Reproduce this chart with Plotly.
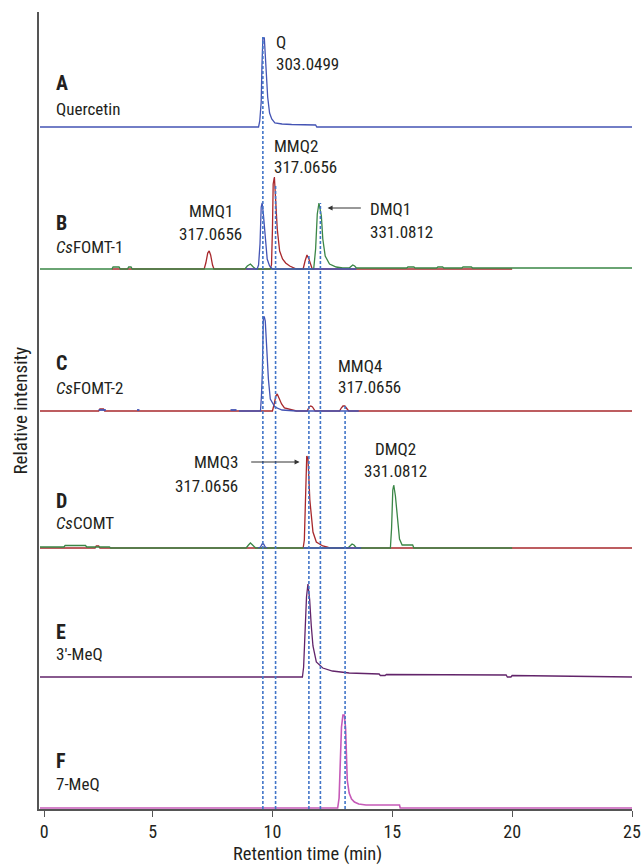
import plotly.graph_objects as go

# ---------------- data (retention time in min, intensity in arbitrary units) ----------------
# panel baselines (stacked offsets)
OFF_A, OFF_B, OFF_C, OFF_D, OFF_E, OFF_F = 681, 539, 397, 260, 131, 0

A_BLUE_T = [0.3, 9.42, 9.47, 9.53, 9.56, 9.6, 9.66, 9.7, 9.75, 9.8, 9.88, 9.97, 10.1, 10.4, 10.8, 11.8, 11.85, 25.0]
A_BLUE_I = [0, 0, 6, 25, 60, 89, 89, 75, 50, 30, 14, 8, 4, 3, 2.5, 2, 0, 0]

B_BLUE_T = [8.9, 9.36, 9.42, 9.48, 9.53, 9.57, 9.62, 9.67, 9.72, 9.78, 9.88, 10.0, 13.5]
B_BLUE_I = [0, 0, 4, 25, 62, 66, 55, 40, 22, 10, 3, 0, 0]
B_RED_T = [3.3, 7.15, 7.22, 7.3, 7.36, 7.42, 7.5, 7.56, 9.9, 9.96, 10.0, 10.03, 10.08, 10.14,
           10.2, 10.3, 10.42, 10.55, 10.72, 11.0, 11.28, 11.36, 11.44, 11.52, 11.6, 11.66, 20.0]
B_RED_I = [0, 0, 6, 16, 18, 14, 4, 0, 0, 4, 40, 85, 92, 70, 40, 18, 10, 6, 3, 0, 0, 8, 14, 10, 3, 0, 0]
B_GREEN_T = [0.3, 3.3, 3.35, 3.6, 3.65, 3.95, 4.0, 4.1, 4.15, 8.85, 8.95, 9.08, 9.2, 9.3, 11.72, 11.8,
             11.87, 11.94, 12.04, 12.1, 12.2, 12.38, 12.66, 12.93, 13.2, 13.28, 13.35, 13.43, 13.5,
             15.6, 15.65, 15.9, 15.95, 16.85, 16.9, 17.1, 17.15, 17.9, 17.95, 18.3, 18.35, 25.0]
B_GREEN_I = [0, 0, 2, 2, 0, 0, 2, 2, 0, 0, 3, 5, 2, 0, 0, 20, 55, 66, 53, 30, 13, 5, 2, 1, 1, 3, 4, 3, 1,
             1, 2, 2, 1, 1, 2, 2, 1, 1, 2, 2, 1, 1]

C_RED_T = [0.3, 2.75, 2.8, 2.95, 3.0, 10.0, 10.08, 10.14, 10.2, 10.28, 10.38, 10.5, 10.65, 10.85, 11.0,
           11.45, 11.53, 11.6, 11.67, 11.78, 12.8, 12.87, 12.94, 13.02, 13.1, 13.18, 25.0]
C_RED_I = [0, 0, 2, 2, 0, 0, 8, 15, 17, 13, 7, 3, 2, 1, 0, 0, 4, 5, 4, 0, 0, 3, 5, 5, 3, 0, 0]
C_BLUE_T = [8.6, 9.5, 9.54, 9.58, 9.62, 9.66, 9.7, 9.73, 9.77, 9.83, 9.91, 10.1, 10.4, 11.0, 13.6]
C_BLUE_I = [0, 0, 15, 40, 94, 94, 90, 75, 65, 32, 12, 4, 1, 0, 0]
C_BLUE_DOTS_T = [2.75, 3.05, None, 4.35, 4.45, None, 8.25, 8.5]
C_BLUE_DOTS_I = [1, 1, None, 1, 1, None, 1, 1]

D_RED_T = [0.3, 2.6, 2.65, 2.75, 2.8, 11.28, 11.33, 11.38, 11.43, 11.48, 11.52, 11.56, 11.6, 11.69,
           11.83, 12.1, 12.3, 12.4, 25.0]
D_RED_I = [0, 0, 2, 2, 0, 0, 8, 60, 92, 90, 62, 48, 38, 16, 6, 2, 1, 0, 0]
D_GREEN_T = [0.3, 1.3, 1.35, 2.2, 2.25, 3.2, 3.25, 8.9, 9.0, 9.08, 9.17, 9.3, 13.15, 13.25, 13.32,
             13.4, 13.5, 14.92, 14.97, 15.02, 15.06, 15.13, 15.23, 15.3, 15.41, 15.85, 15.9, 20.0]
D_GREEN_I = [1, 1, 2.5, 2.5, 1, 1, 0, 0, 3, 5, 3, 0, 0, 3, 4, 3, 0, 0, 20, 58, 63, 52, 29, 9, 3, 3, 0, 0]
D_BLUE_T = [9.4, 9.5, 9.57, 9.63, 9.7, 9.78, None, 11.3, 13.7]
D_BLUE_I = [0, 1, 4, 4, 1, 0, None, 0, 0]

E_PURPLE_T = [0.3, 11.25, 11.3, 11.37, 11.42, 11.48, 11.55, 11.62, 11.69, 11.83, 12.1, 12.5, 13.2,
              14.45, 14.5, 14.7, 14.75, 19.75, 19.8, 19.95, 20.0, 25.0]
E_PURPLE_I = [0, 0, 10, 50, 80, 93, 78, 51, 31, 15, 9, 6, 4, 3, 1.5, 1.5, 2.5, 2, 0, 0, 1.5, 0]

F_PINK_T = [0.3, 12.72, 12.78, 12.85, 12.88, 12.94, 13.0, 13.05, 13.08, 13.12, 13.2, 13.3, 13.42,
            13.6, 13.9, 15.3, 15.33, 25.0]
F_PINK_I = [0, 0, 10, 70, 81, 93, 93, 80, 50, 28, 15, 9, 6, 4, 3, 3, 0, 0]

# reference (dashed) lines: retention time and top of the line
REF_T = [9.6, 10.13, 11.52, 12.0, 13.03]
REF_TOP = [771, 624, 552, 605, 402]

TICK_VALS = [0.48, 5, 10, 15, 20, 25]
TICK_TEXT = ["0", "5", "10", "15", "20", "25"]

# ---------------- styling ----------------
FONT = "Roboto Condensed, Liberation Sans Narrow, Arial Narrow, Roboto, sans-serif"
TXT = "#231f20"
BLUE = "#4454b4"
RED = "#a8282c"
GREEN = "#3a8646"
PURPLE = "#62246a"
PINK = "#c65ab8"
DASH = "#4275c8"

fig = go.Figure()


def add(t, i, off, color, width=1.3):
    y = [None if v is None else v + off for v in i]
    fig.add_trace(go.Scatter(x=t, y=y, mode="lines", line=dict(color=color, width=width),
                             hoverinfo="skip", showlegend=False, connectgaps=False))


add(A_BLUE_T, A_BLUE_I, OFF_A, BLUE)
add(B_RED_T, B_RED_I, OFF_B, RED)
add(B_GREEN_T, B_GREEN_I, OFF_B, GREEN)
add(B_BLUE_T, B_BLUE_I, OFF_B, BLUE)
add(C_RED_T, C_RED_I, OFF_C, RED)
add(C_BLUE_T, C_BLUE_I, OFF_C, BLUE)
add(C_BLUE_DOTS_T, C_BLUE_DOTS_I, OFF_C, BLUE, 1.8)
add(D_RED_T, D_RED_I, OFF_D, RED)
add(D_GREEN_T, D_GREEN_I, OFF_D, GREEN)
add(D_BLUE_T, D_BLUE_I, OFF_D, BLUE)
add(E_PURPLE_T, E_PURPLE_I, OFF_E, PURPLE)
add(F_PINK_T, F_PINK_I, OFF_F, PINK, 1.6)

for t, top in zip(REF_T, REF_TOP):
    fig.add_shape(type="line", xref="x", yref="y", x0=t, x1=t, y0=-1, y1=top,
                  line=dict(color=DASH, width=1.6, dash="3px,2px"))

# labels
def txt(x, y, s, anchor="left", size=17):
    fig.add_annotation(x=x, y=y, xref="x", yref="y", text=s, showarrow=False,
                       xanchor=anchor, yanchor="middle", font=dict(family=FONT, size=size, color=TXT))

LX = 0.88
txt(LX, 725, "<b>A</b>", size=20)
txt(LX, 699, "Quercetin")
txt(LX, 585, "<b>B</b>", size=20)
txt(LX, 561, "<i>Cs</i>FOMT-1")
txt(LX, 445, "<b>C</b>", size=20)
txt(LX, 420, "<i>Cs</i>FOMT-2")
txt(LX, 307, "<b>D</b>", size=20)
txt(LX, 285, "<i>Cs</i>COMT")
txt(LX, 176, "<b>E</b>", size=20)
txt(LX, 154, "3′-MeQ")
txt(LX, 47, "<b>F</b>", size=20)
txt(LX, 24, "7-MeQ")

txt(10.05, 766, "Q")
txt(10.05, 744, "303.0499")
txt(9.97, 662, "MMQ2")
txt(9.97, 641, "317.0656")
txt(7.43, 597, "MMQ1", "center")
txt(7.43, 574, "317.0656", "center")
txt(13.97, 599, "DMQ1")
txt(13.97, 576, "331.0812")
txt(12.63, 442, "MMQ4")
txt(12.63, 421, "317.0656")
txt(8.63, 346, "MMQ3", "right")
txt(8.63, 322, "317.0656", "right")
txt(15.13, 359, "DMQ2", "center")
txt(15.13, 337, "331.0812", "center")

# arrows
fig.add_annotation(x=12.3, y=600, ax=13.75, ay=600, xref="x", yref="y", axref="x", ayref="y",
                   text="", showarrow=True, arrowhead=2, arrowsize=1, arrowwidth=1, arrowcolor="#333333")
fig.add_annotation(x=11.13, y=346, ax=9.05, ay=346, xref="x", yref="y", axref="x", ayref="y",
                   text="", showarrow=True, arrowhead=2, arrowsize=1, arrowwidth=1, arrowcolor="#333333")

# axis titles
fig.add_annotation(x=0.453, y=-0.056, xref="paper", yref="paper", text="Retention time (min)",
                   showarrow=False, xanchor="center", yanchor="middle",
                   font=dict(family=FONT, size=18.5, color=TXT))
fig.add_annotation(x=-0.032, y=0.5, xref="paper", yref="paper", text="Relative intensity",
                   showarrow=False, textangle=-90, xanchor="center", yanchor="middle",
                   font=dict(family=FONT, size=19, color=TXT))

fig.update_layout(
    width=642, height=865, autosize=False,
    margin=dict(l=39, r=10, t=12, b=56, autoexpand=False),
    plot_bgcolor="white", paper_bgcolor="white",
    xaxis=dict(range=[0.26, 25.0], showgrid=False, zeroline=False, showline=True, automargin=False,
               linecolor="#555555", linewidth=1.5, ticks="outside", ticklen=6, tickwidth=1.2,
               tickcolor="#555555", tickvals=TICK_VALS, ticktext=TICK_TEXT,
               tickfont=dict(family=FONT, size=18, color=TXT)),
    yaxis=dict(range=[-1, 796], showgrid=False, zeroline=False, showline=True, automargin=False,
               linecolor="#555555", linewidth=1.5, showticklabels=False, ticks=""),
)

fig.write_html("out.html",
               config={"responsive": False, "displayModeBar": False},
               post_script="document.body.style.margin='0';document.body.style.overflow='hidden';")
